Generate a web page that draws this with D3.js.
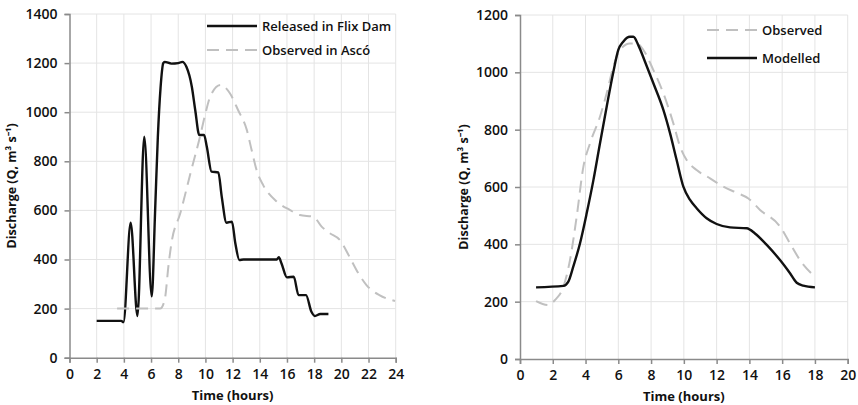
<!DOCTYPE html>
<html>
<head>
<meta charset="utf-8">
<script src="https://cdn.jsdelivr.net/npm/d3@7"></script>
<style>
  body { margin: 0; background: #fff; }
  svg { display: block; font-family: "Open Sans", sans-serif; }
</style>
</head>
<body>
<svg id="chart" width="858" height="405"></svg>
<script>
// left panel: Flix dam release vs observed in Ascó
const releasedHours = [2, 3.8, 3.97, 4.5, 5.0, 5.5, 6.05, 6.3, 6.5, 6.7, 6.9, 7.0, 7.5, 8.0, 8.3, 8.6, 9.0, 9.25, 9.55, 9.9, 10.1, 10.45, 10.95, 11.2, 11.55, 11.95, 12.2, 12.5, 12.8, 15.25, 15.4, 15.6, 16.0, 16.5, 16.85, 17.4, 17.8, 18.05, 18.45, 19.05];
const releasedQ = [150, 150, 145, 550, 170, 900, 250, 600, 900, 1100, 1200, 1205, 1198, 1200, 1205, 1185, 1104, 1009, 907, 907, 860, 758, 755, 656, 550, 554, 466, 398, 400, 400, 409, 384, 327, 330, 255, 255, 187, 170, 178, 178];

const ascoHours = [3.5, 6.67, 7.0, 7.3, 7.5, 8.15, 8.9, 9.6, 10.0, 10.35, 11.1, 11.8, 12.4, 13.05, 13.4, 13.8, 14.25, 15.25, 16.2, 16.95, 17.95, 18.55, 19.15, 19.9, 20.6, 21.25, 21.85, 22.8, 23.95];
const ascoQ = [200, 200, 235, 384, 466, 588, 751, 900, 995, 1063, 1111, 1077, 1009, 927, 846, 758, 703, 636, 602, 581, 574, 534, 507, 479, 411, 344, 296, 255, 231];

// right panel: observed vs modelled
const modelHours = [0.98, 2.65, 2.95, 3.25, 3.66, 4.07, 4.48, 4.88, 5.29, 5.7, 6.0, 6.3, 6.71, 6.92, 7.22, 7.63, 8.14, 8.75, 9.16, 9.56, 9.97, 10.38, 10.78, 11.39, 12.0, 12.82, 13.84, 14.34, 15.06, 15.87, 16.48, 16.89, 17.29, 18.0];
const modelQ = [250, 255, 270, 322, 403, 508, 624, 752, 880, 1002, 1078, 1107, 1124, 1124, 1095, 1037, 962, 869, 787, 694, 601, 555, 526, 491, 471, 459, 456, 438, 398, 345, 299, 266, 256, 250];

const obsHours = [0.98, 1.73, 2.14, 2.65, 3.05, 3.46, 3.87, 4.27, 4.88, 5.29, 5.7, 6.1, 6.71, 7.12, 7.53, 8.14, 8.75, 9.36, 9.77, 10.17, 10.78, 11.6, 12.41, 13.22, 13.94, 14.65, 15.87, 16.48, 17.09, 18.0];
const obsQ = [202, 188, 206, 252, 345, 497, 671, 752, 845, 927, 1020, 1078, 1101, 1101, 1078, 1008, 927, 822, 741, 694, 659, 630, 601, 580, 560, 520, 462, 403, 345, 287];

const leftXTicks = d3.range(0, 25, 2);
const leftYTicks = d3.range(0, 1401, 200);
const rightXTicks = d3.range(0, 21, 2);
const rightYTicks = d3.range(0, 1201, 200);

const yTitle = "Discharge (Q, m\u00B3 s\u207B\u00B9)";
const xTitle = "Time (hours)";

const svg = d3.select("#chart");

function zip(xs, ys) {
    return xs.map((x, i) => ({x: x, y: ys[i]}));
}

function drawPanel(opts) {
    const x = d3.scaleLinear().domain(opts.xDomain).range([opts.left, opts.right]);
    const y = d3.scaleLinear().domain(opts.yDomain).range([opts.bottom, opts.top]);
    const g = svg.append("g");

    // gridlines
    g.append("g").selectAll("line").data(opts.xTicks.slice(1)).join("line")
        .attr("x1", d => x(d)).attr("x2", d => x(d))
        .attr("y1", opts.bottom).attr("y2", opts.top)
        .attr("stroke", "#e4e4e4").attr("stroke-width", 1);
    g.append("g").selectAll("line").data(opts.yTicks.slice(1)).join("line")
        .attr("x1", opts.left).attr("x2", opts.right)
        .attr("y1", d => y(d)).attr("y2", d => y(d))
        .attr("stroke", "#e4e4e4").attr("stroke-width", 1);

    // axes
    const xAxis = g.append("g")
        .attr("transform", `translate(0,${opts.bottom})`)
        .call(d3.axisBottom(x).tickValues(opts.xTicks).tickFormat(d3.format("d"))
            .tickSizeOuter(0).tickSize(5).tickPadding(6));
    const yAxis = g.append("g")
        .attr("transform", `translate(${opts.left},0)`)
        .call(d3.axisLeft(y).tickValues(opts.yTicks).tickFormat(d3.format("d"))
            .tickSizeOuter(0).tickSize(5).tickPadding(7));
    [xAxis, yAxis].forEach(a => {
        a.selectAll("path, line").attr("stroke", "#8a8a8a").attr("stroke-width", 1.5);
        a.selectAll("text").attr("fill", "#111").attr("font-size", "14px")
            .attr("font-weight", 600).attr("font-family", "Open Sans");
    });

    // titles
    g.append("text")
        .attr("x", (opts.left + opts.right) / 2)
        .attr("y", opts.bottom + 42)
        .attr("text-anchor", "middle")
        .attr("font-size", "13px").attr("font-weight", "bold").attr("fill", "#111")
        .text(xTitle);
    g.append("text")
        .attr("transform", `translate(${opts.yTitleX},${(opts.top + opts.bottom) / 2}) rotate(-90)`)
        .attr("text-anchor", "middle")
        .attr("font-size", "12.5px").attr("font-weight", "bold").attr("fill", "#111")
        .text(yTitle);

    const line = d3.line().x(d => x(d.x)).y(d => y(d.y)).curve(d3.curveMonotoneX);

    // series
    opts.series.forEach(s => {
        g.append("path")
            .datum(zip(s.hours, s.q))
            .attr("fill", "none")
            .attr("stroke", s.color)
            .attr("stroke-width", s.width)
            .attr("stroke-dasharray", s.dash || null)
            .attr("stroke-linejoin", "round")
            .attr("d", line);
    });

    // legend
    opts.series.forEach(s => {
        const ly = opts.legendY[s.order];
        g.append("line")
            .attr("x1", opts.legendX).attr("x2", opts.legendX + 50)
            .attr("y1", ly).attr("y2", ly)
            .attr("stroke", s.color).attr("stroke-width", s.width)
            .attr("stroke-dasharray", s.dash || null);
        g.append("text")
            .attr("x", opts.legendX + 55).attr("y", ly)
            .attr("dy", "0.35em")
            .attr("font-size", "13px").attr("font-weight", 600).attr("fill", "#111")
            .text(s.name);
    });
}

drawPanel({
    xDomain: [0, 24], yDomain: [0, 1400],
    left: 69.5, right: 395.7, top: 14, bottom: 357.7,
    xTicks: leftXTicks, yTicks: leftYTicks,
    yTitleX: 16,
    legendX: 207, legendY: [26, 50],
    series: [
        {name: "Released in Flix Dam", hours: releasedHours, q: releasedQ, color: "#111", width: 2.4, order: 0},
        {name: "Observed in Ascó", hours: ascoHours, q: ascoQ, color: "#c0c0c0", width: 2, dash: "12,7", order: 1}
    ]
});

drawPanel({
    xDomain: [0, 20], yDomain: [0, 1200],
    left: 520, right: 847.7, top: 15, bottom: 359,
    xTicks: rightXTicks, yTicks: rightYTicks,
    yTitleX: 468,
    legendX: 707, legendY: [30, 58],
    series: [
        {name: "Observed", hours: obsHours, q: obsQ, color: "#c0c0c0", width: 2, dash: "12,7", order: 0},
        {name: "Modelled", hours: modelHours, q: modelQ, color: "#111", width: 2.4, order: 1}
    ]
});
</script>
</body>
</html>
